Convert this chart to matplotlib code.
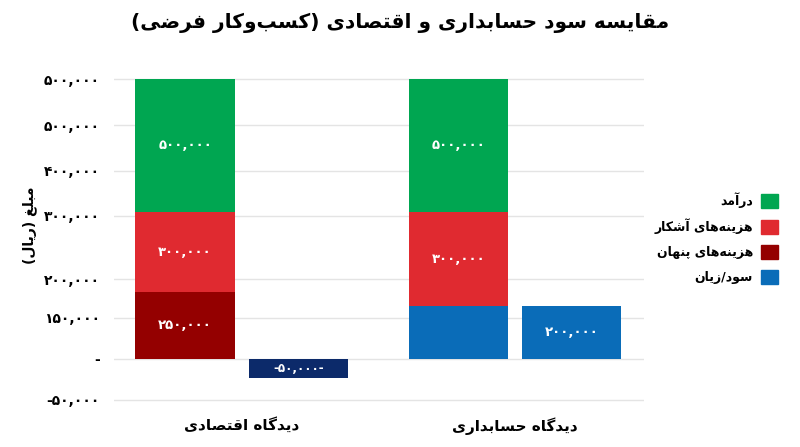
import matplotlib.pyplot as plt
import numpy as np

plt.rcParams['font.family'] = ['DejaVu Sans']

# ---- data ----
categories = ['دیدگاه اقتصادی', 'دیدگاه حسابداری']
revenue = [500000, 500000]
explicit_costs = [300000, 350000]
bottom_part = [250000, 200000]      # hidden costs (econ) / blue part (accounting)
profit = [-70000, 200000]

revenue_txt = ['۵۰۰,۰۰۰', '۵۰۰,۰۰۰']
explicit_txt = ['۳۰۰,۰۰۰', '۳۰۰,۰۰۰']
bottom_txt = ['۲۵۰,۰۰۰', '']
profit_txt = ['-۵۰,۰۰۰-', '۲۰۰,۰۰۰']

tick_values = [1050000, 877000, 707000, 538000, 299000, 155000, 0, -154000]
tick_labels = ['۵۰۰,۰۰۰', '۵۰۰,۰۰۰', '۴۰۰,۰۰۰', '۳۰۰,۰۰۰', '۲۰۰,۰۰۰', '۱۵۰,۰۰۰', '-', '-۵۰,۰۰۰']

legend_labels = ['درآمد', 'هزینه‌های آشکار', 'هزینه‌های پنهان', 'سود/زیان']
title = 'مقایسه سود حسابداری و اقتصادی (کسب‌وکار فرضی)'
ylabel = 'مبلغ (ریال)'

c_green = '#00a651'
c_red = '#e02a30'
c_dark = '#940000'
c_blue = '#0a6cb8'
c_navy = '#0c2a6a'

# ---- tiny persian shaper (matplotlib has no text shaping) ----
FORMS = {
    'ا': (0xFE8D, 0xFE8E, None, None),
    'آ': (0xFE81, 0xFE82, None, None),
    'ب': (0xFE8F, 0xFE90, 0xFE91, 0xFE92),
    'پ': (0xFB56, 0xFB57, 0xFB58, 0xFB59),
    'ت': (0xFE95, 0xFE96, 0xFE97, 0xFE98),
    'ح': (0xFEA1, 0xFEA2, 0xFEA3, 0xFEA4),
    'د': (0xFEA9, 0xFEAA, None, None),
    'ر': (0xFEAD, 0xFEAE, None, None),
    'ز': (0xFEAF, 0xFEB0, None, None),
    'س': (0xFEB1, 0xFEB2, 0xFEB3, 0xFEB4),
    'ش': (0xFEB5, 0xFEB6, 0xFEB7, 0xFEB8),
    'ص': (0xFEB9, 0xFEBA, 0xFEBB, 0xFEBC),
    'ض': (0xFEBD, 0xFEBE, 0xFEBF, 0xFEC0),
    'غ': (0xFECD, 0xFECE, 0xFECF, 0xFED0),
    'ف': (0xFED1, 0xFED2, 0xFED3, 0xFED4),
    'ق': (0xFED5, 0xFED6, 0xFED7, 0xFED8),
    'ک': (0xFB8E, 0xFB8F, 0xFB90, 0xFB91),
    'گ': (0xFB92, 0xFB93, 0xFB94, 0xFB95),
    'ل': (0xFEDD, 0xFEDE, 0xFEDF, 0xFEE0),
    'م': (0xFEE1, 0xFEE2, 0xFEE3, 0xFEE4),
    'ن': (0xFEE5, 0xFEE6, 0xFEE7, 0xFEE8),
    'ه': (0xFEE9, 0xFEEA, 0xFEEB, 0xFEEC),
    'و': (0xFEED, 0xFEEE, None, None),
    'ی': (0xFBFC, 0xFBFD, 0xFBFE, 0xFBFF),
}


def fa(text):
    out = []
    for i, c in enumerate(text):
        if c not in FORMS:
            if c != '\u200c':
                out.append(c)
            continue
        prev = text[i - 1] if i > 0 else ''
        nxt = text[i + 1] if i + 1 < len(text) else ''
        iso, fin, ini, med = FORMS[c]
        to_prev = prev in FORMS and FORMS[prev][2] is not None
        to_next = ini is not None and nxt in FORMS
        if to_prev and to_next:
            g = med
        elif to_prev:
            g = fin
        elif to_next:
            g = ini
        else:
            g = iso
        out.append(chr(g))
    return ''.join(out)[::-1].translate(str.maketrans('()', ')('))


# ---- figure ----
fig = plt.figure(figsize=(8, 4.47), dpi=100)
ax = fig.add_axes([114 / 800, 1 - 405 / 447, (644 - 114) / 800, 335 / 447])

x = np.arange(len(categories))
w = 0.363
off = 0.207
bottom_colors = [c_dark, c_blue]
profit_colors = [c_navy, c_blue]

stack_x = x - off
ax.bar(stack_x, bottom_part, w, color=bottom_colors, zorder=2)
ax.bar(stack_x, explicit_costs, w, bottom=bottom_part, color=c_red, zorder=2)
rev_bottom = np.array(bottom_part) + np.array(explicit_costs)
ax.bar(stack_x, revenue, w, bottom=rev_bottom, color=c_green, zorder=2)
ax.bar(x + off, profit, w, color=profit_colors, zorder=2)

lbl = dict(ha='center', va='center', color='white', fontweight='bold', fontsize=9.5)
for i in range(len(categories)):
    if bottom_txt[i]:
        ax.text(stack_x[i], bottom_part[i] / 2, bottom_txt[i], **lbl)
    ax.text(stack_x[i], bottom_part[i] + explicit_costs[i] / 2, explicit_txt[i], **lbl)
    ax.text(stack_x[i], rev_bottom[i] + revenue[i] / 2, revenue_txt[i], **lbl)
    ax.text(x[i] + off, profit[i] / 2, profit_txt[i],
            **{**lbl, 'fontsize': 8.5 if profit[i] < 0 else 9.5})

ax.set_xlim(-0.467, 1.472)
ax.set_ylim(-173000, 1085000)

ax.set_yticks(tick_values)
ax.set_yticklabels(tick_labels, fontweight='bold', fontsize=10)
ax.set_xticks(x)
ax.set_xticklabels([fa(c) for c in categories], fontweight='bold', fontsize=11)
ax.tick_params(axis='y', length=0, pad=10)
ax.tick_params(axis='x', length=0, pad=9)
for s in ax.spines.values():
    s.set_visible(False)
ax.yaxis.grid(True, color='#e4e4e4', linewidth=1)
ax.set_axisbelow(True)

fig.text(0.5, 1 - 23 / 447, fa(title), ha='center', va='center',
         fontsize=14.5, fontweight='bold')
fig.text(30 / 800, 1 - 225 / 447, fa(ylabel), ha='center', va='center',
         rotation=90, fontsize=10, fontweight='bold')

handles = [plt.Rectangle((0, 0), 1, 1, color=c) for c in [c_green, c_red, c_dark, c_blue]]
fig.legend(handles, [fa(l) for l in legend_labels], loc='center right',
           bbox_to_anchor=(778 / 800, 1 - 238 / 447), frameon=False,
           markerfirst=False, prop={'weight': 'bold', 'size': 9},
           handlelength=1.35, handleheight=1.35, handletextpad=0.65,
           labelspacing=0.85, borderpad=0, borderaxespad=0)

plt.savefig('out.png', dpi=100)
